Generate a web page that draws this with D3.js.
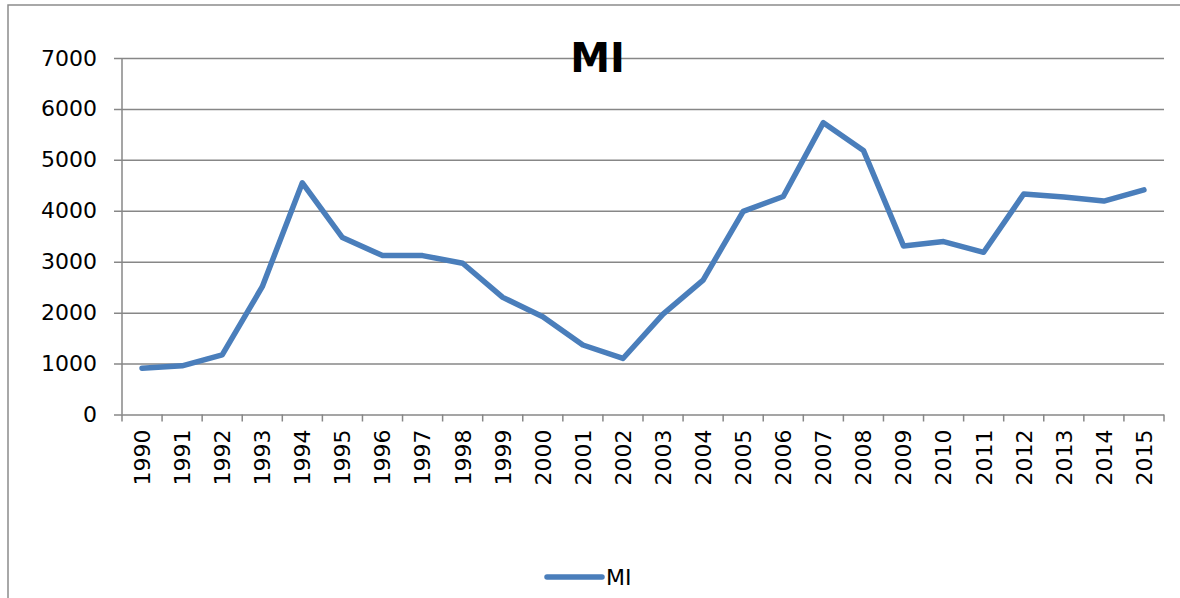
<!DOCTYPE html>
<html>
<head>
<meta charset="utf-8">
<script src="https://cdn.jsdelivr.net/npm/d3@7"></script>
<style>
body { margin: 0; background: #fff; }
text { font-family: "DejaVu Sans", sans-serif; fill: #000; }
</style>
</head>
<body>
<div id="chart"></div>
<script>
var years = ["1990","1991","1992","1993","1994","1995","1996","1997","1998","1999","2000","2001","2002",
             "2003","2004","2005","2006","2007","2008","2009","2010","2011","2012","2013","2014","2015"];
var mi = [910, 955, 1170, 2510, 4550, 3475, 3120, 3120, 2970, 2300, 1920, 1365, 1100,
          1970, 2640, 3990, 4280, 5730, 5185, 3310, 3395, 3185, 4330, 4270, 4190, 4410];
var yTicks = [0, 1000, 2000, 3000, 4000, 5000, 6000, 7000];
var seriesName = "MI";

var W = 1180, H = 598;
var plot = {left: 122, right: 1164, top: 58, bottom: 414.5};

var svg = d3.select("#chart").append("svg")
    .attr("width", W)
    .attr("height", H);

// outer chart border (only left and top visible)
svg.append("path")
    .attr("d", "M8," + H + "V5H" + W)
    .attr("fill", "none")
    .attr("stroke", "#8c8c8c")
    .attr("stroke-width", 1.5);

var x = d3.scaleBand().domain(years).range([plot.left, plot.right]);
var y = d3.scaleLinear().domain([0, 7000]).range([plot.bottom, plot.top]);

// gridlines + y labels
var gy = svg.append("g")
    .attr("transform", "translate(" + plot.right + ",0)")
    .call(d3.axisLeft(y).tickValues(yTicks).tickFormat(d3.format("d"))
        .tickSize(plot.right - 114).tickPadding(17));
gy.select(".domain").remove();
gy.selectAll("line").attr("stroke", "#878787").attr("stroke-width", 1.5);
gy.selectAll("text").style("font-size", "22px").style("font-family", "DejaVu Sans");

// y axis line
svg.append("line")
    .attr("x1", plot.left).attr("x2", plot.left)
    .attr("y1", y(7000)).attr("y2", y(0))
    .attr("stroke", "#878787").attr("stroke-width", 1.5);

// x axis labels
var gx = svg.append("g")
    .attr("transform", "translate(0," + plot.bottom + ")")
    .call(d3.axisBottom(x).tickSize(0));
gx.select(".domain").remove();
gx.selectAll("text")
    .style("font-size", "22px")
    .style("font-family", "DejaVu Sans")
    .attr("transform", "rotate(-90)")
    .attr("text-anchor", "end")
    .attr("x", -15)
    .attr("y", 0)
    .attr("dy", "0.36em");

// x tick marks at category boundaries
var bounds = years.map(function(d) { return x(d); }).concat([x.range()[1]]);
svg.append("g").selectAll("line")
    .data(bounds)
    .enter().append("line")
    .attr("x1", function(d) { return d; })
    .attr("x2", function(d) { return d; })
    .attr("y1", plot.bottom)
    .attr("y2", plot.bottom + 7)
    .attr("stroke", "#878787")
    .attr("stroke-width", 1.5);

// series line
var line = d3.line()
    .x(function(d, i) { return x(years[i]) + x.bandwidth() / 2; })
    .y(function(d) { return y(d); });

svg.append("path")
    .datum(mi)
    .attr("d", line)
    .attr("fill", "none")
    .attr("stroke", "#4a7ebb")
    .attr("stroke-width", 5.5)
    .attr("stroke-linejoin", "round")
    .attr("stroke-linecap", "round");

// title
svg.append("text")
    .attr("x", 597.5)
    .attr("y", 72)
    .attr("text-anchor", "middle")
    .style("font-size", "40px")
    .style("font-weight", "bold")
    .text(seriesName);

// legend
var legend = svg.append("g").attr("transform", "translate(547,577)");
legend.append("line")
    .attr("x1", 0).attr("x2", 55)
    .attr("y1", 0).attr("y2", 0)
    .attr("stroke", "#4a7ebb")
    .attr("stroke-width", 5.5)
    .attr("stroke-linecap", "round");
legend.append("text")
    .attr("x", 59)
    .attr("y", 0)
    .attr("dy", "0.36em")
    .style("font-size", "22px")
    .text(seriesName);
</script>
</body>
</html>
